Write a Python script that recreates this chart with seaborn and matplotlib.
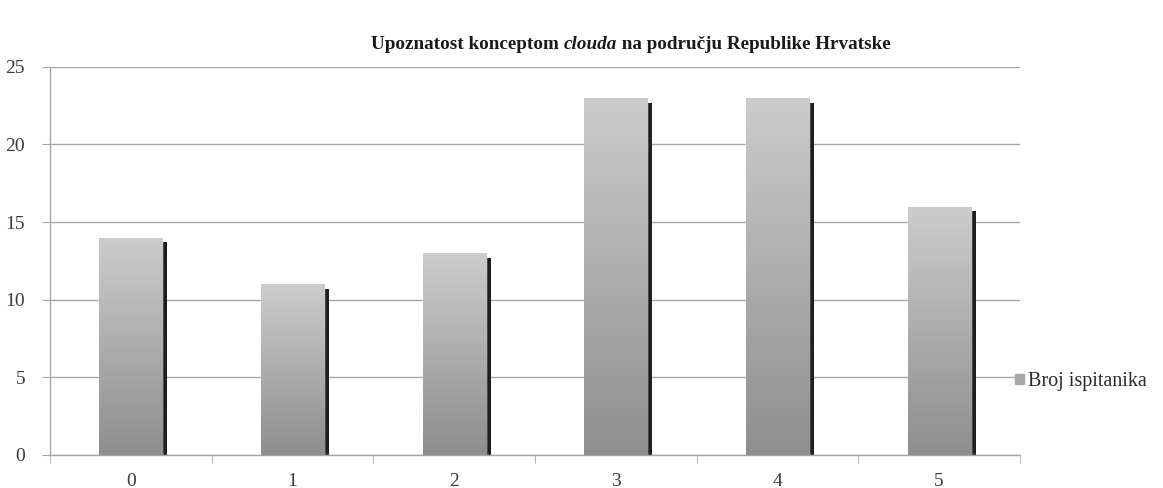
import numpy as np
import pandas as pd
import matplotlib
matplotlib.use("Agg")
import matplotlib.pyplot as plt
from matplotlib.colors import LinearSegmentedColormap
from matplotlib.patches import Rectangle
import seaborn as sns

kategorije = ["0", "1", "2", "3", "4", "5"]
broj_ispitanika = [14, 11, 13, 23, 23, 16]
y_ticks = [0, 5, 10, 15, 20, 25]

df = pd.DataFrame({"kategorija": kategorije, "broj": broj_ispitanika})

sns.set_style("white")
plt.rcParams["font.family"] = ["Liberation Serif", "DejaVu Serif"]

fig = plt.figure(figsize=(11.63, 4.88), dpi=100)
ax = fig.add_axes([0.043, 0.068, 0.834, 0.795])

sns.barplot(data=df, x="kategorija", y="broj", color="#b0b0b0", width=0.39,
            ax=ax, zorder=3)

grad_cmap = LinearSegmentedColormap.from_list("siva", ["#8e8e8e", "#cccccc"])
grad = np.linspace(0, 1, 256).reshape(-1, 1)
for p in ax.patches:
    x0, w, h = p.get_x(), p.get_width(), p.get_height()
    # sjena desno od stupca
    ax.add_patch(Rectangle((x0 + w, 0), w * 0.08, h - 0.3, color="#1e1e1e",
                           zorder=2.5, lw=0))
    ax.add_patch(Rectangle((x0 + w * 0.08, 0), w, 0.12, color="#2a2a2a",
                           zorder=2.5, lw=0))
    im = ax.imshow(grad, extent=[x0, x0 + w, 0, h], origin="lower",
                   cmap=grad_cmap, aspect="auto", zorder=3.5)
    im.set_clip_path(p)

ax.set_xlim(-0.5, len(kategorije) - 0.5)
ax.set_ylim(0, 25)
ax.set_aspect("auto")
ax.set_yticks(y_ticks)
ax.set_xticks(range(len(kategorije)))
ax.set_xticklabels(kategorije)
ax.set_xticks(np.arange(-0.5, len(kategorije)), minor=True)
ax.set_xlabel("")
ax.set_ylabel("")

ax.yaxis.grid(True, color="#a6a6a6", lw=1)
ax.set_axisbelow(True)
for s in ["top", "right"]:
    ax.spines[s].set_visible(False)
for s in ["left", "bottom"]:
    ax.spines[s].set_color("#a6a6a6")
    ax.spines[s].set_linewidth(1)
ax.tick_params(axis="x", which="major", length=0, pad=13, labelsize=14,
               labelcolor="#3a3a3a")
ax.tick_params(axis="x", which="minor", length=6, color="#a6a6a6", direction="out")
ax.tick_params(axis="y", length=6, color="#a6a6a6", direction="out",
               labelsize=14, labelcolor="#3a3a3a", pad=12)
ax.tick_params(axis="y", which="major", left=True)
ax.tick_params(axis="x", which="minor", bottom=True)

# legenda
ax.add_patch(Rectangle((0, 0), 0, 0, color="#a8a8a8", label="Broj ispitanika"))
leg = fig.legend(handles=[ax.patches[-1]], loc="center left",
                 bbox_to_anchor=(0.857, 0.218), frameon=False,
                 prop={"family": "Liberation Serif", "size": 14.5},
                 handlelength=0.45, handleheight=0.45, handletextpad=0.2)
for t in leg.get_texts():
    t.set_color("#2a2a2a")

# naslov s kurzivom
fig.canvas.draw()
renderer = fig.canvas.get_renderer()
dijelovi = [("Upoznatost konceptom ", "normal"), ("clouda", "italic"),
            (" na području Republike Hrvatske", "normal")]
texts = []
for txt, stil in dijelovi:
    texts.append(fig.text(0, 0.908, txt, fontsize=13.8, fontweight="bold",
                          style=stil, color="#1a1a1a", ha="left", va="center"))
widths = [t.get_window_extent(renderer).width for t in texts]
x = 631 - sum(widths) / 2
for t, w in zip(texts, widths):
    t.set_x(x / 1163)
    x += w

fig.savefig("out.png", dpi=100)
